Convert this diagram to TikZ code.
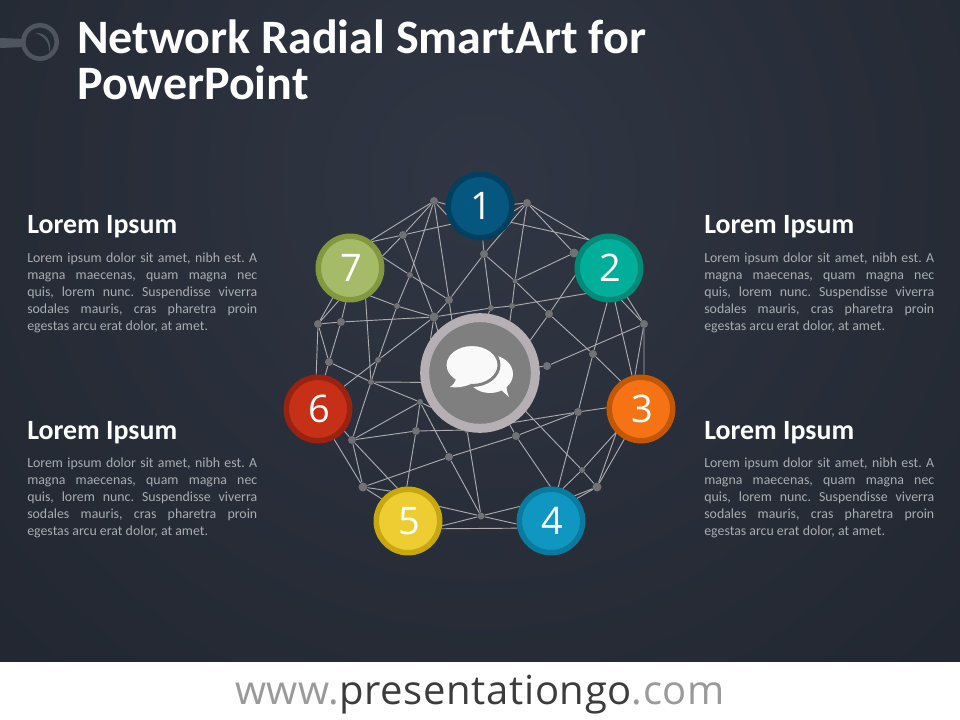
\documentclass[tikz,border=0pt]{standalone}
\usepackage{fontspec}
\setmainfont{Carlito}
\newfontfamily\opensans{Open Sans}
\newfontfamily\footfont[LetterSpace=1.6]{Open Sans}
\frenchspacing
\usetikzlibrary{backgrounds}
\pgfdeclarelayer{bgpaint}
\pgfdeclarelayer{edges}
\pgfsetlayers{bgpaint,edges,main}
\definecolor{linec}{HTML}{ABABB0}
\definecolor{dotc}{HTML}{717176}
\definecolor{bodyc}{HTML}{A9ACB1}
\definecolor{logoc}{HTML}{4F555F}
\definecolor{hubring}{HTML}{B6AFB3}
\definecolor{hubfill}{HTML}{7F7F7F}
\definecolor{oa}{HTML}{034060}\definecolor{ia}{HTML}{065780}
\definecolor{ob}{HTML}{008B79}\definecolor{ib}{HTML}{00AE9A}
\definecolor{oc}{HTML}{C25705}\definecolor{ic}{HTML}{F57315}
\definecolor{od}{HTML}{0A7A9E}\definecolor{id}{HTML}{0F97C2}
\definecolor{oe}{HTML}{C9A70E}\definecolor{ie}{HTML}{EECD33}
\definecolor{of}{HTML}{992212}\definecolor{if}{HTML}{C53016}
\definecolor{og}{HTML}{84993F}\definecolor{ig}{HTML}{A6BB68}
\tikzset{
  netdot/.style={circle,fill=dotc,draw=none,inner sep=0pt,minimum size=#1*0.75pt},
  link/.style={draw=linec,line width=0.7pt},
  badge/.style n args={2}{circle,draw=#1,fill=#2,line width=4.1pt,minimum size=47.6pt,inner sep=0pt,text=white,font=\opensans\fontsize{28.5}{29}\selectfont},
  headtext/.style={anchor=base west,inner sep=0pt,text=white,font=\bfseries\fontsize{20.9}{24}\selectfont},
  titletext/.style={anchor=base west,inner sep=0pt,text=white,font=\bfseries\fontsize{36}{40}\selectfont},
  bodytext/.style={anchor=north west,inner sep=0pt,text=bodyc,text width=172.5pt,align=justify,font=\fontsize{10.4}{12.75}\selectfont},
}
\newcommand{\loremtext}{Lorem ipsum dolor sit amet, nibh est. A\linebreak magna maecenas, quam magna nec\linebreak quis, lorem nunc. Suspendisse viverra\linebreak sodales mauris, cras pharetra proin\linebreak egestas arcu erat dolor, at amet.}
\newcommand{\dgt}[1]{\kern2pt #1}
\begin{document}
\begin{tikzpicture}[x=0.75pt,y=-0.75pt]
\useasboundingbox (0,0) rectangle (960,720);
% background
\begin{pgfonlayer}{bgpaint}
\begin{scope}
\clip (0,0) rectangle (960,662);
\shade[inner color={rgb,255:red,48;green,54;blue,67},outer color={rgb,255:red,31;green,36;blue,45}] (480,180) circle (600pt);
\end{scope}
\fill[white] (0,662) rectangle (960,720);
\end{pgfonlayer}
% logo
\fill[logoc] (0,38) -- (25,39) -- (25,47) -- (0,48) -- cycle;
\draw[logoc,line width=3.4pt] (40,42) circle (16.7);
\fill[logoc] (35,33) .. controls (46,32) and (53,42) .. (49,54) .. controls (50,43) and (45,36) .. (35,33) -- cycle;
% title
\node[titletext] (title1) at (77,53.5) {Network Radial SmartArt for};
\node[titletext] (title2) at (77,99.5) {PowerPoint};
% side texts
\node[headtext] (h1) at (27,234) {Lorem Ipsum};
\node[bodytext] (b1) at (27,253) {\loremtext};
\node[headtext] (h2) at (27,439) {Lorem Ipsum};
\node[bodytext] (b2) at (27,458) {\loremtext};
\node[headtext] (h3) at (704,234) {Lorem Ipsum};
\node[bodytext] (b3) at (704,253) {\loremtext};
\node[headtext] (h4) at (704,439) {Lorem Ipsum};
\node[bodytext] (b4) at (704,458) {\loremtext};
% footer
\node[anchor=base,inner sep=0pt,font=\footfont\fontsize{30}{32}\selectfont] (foot) at (480,704) {\textcolor[HTML]{9A9A9A}{www.}\textcolor[HTML]{3C3C3C}{presentationgo}\textcolor[HTML]{9A9A9A}{.com}};
% network dots
\node[netdot=8] (a) at (434,201) {};
\node[netdot=8] (b) at (403,235) {};
\node[netdot=6] (c) at (410,275) {};
\node[netdot=8] (d) at (449,300) {};
\node[netdot=9] (e) at (434,317) {};
\node[netdot=6] (f) at (397,306) {};
\node[netdot=8] (g) at (341,322) {};
\node[netdot=8] (h) at (318,324) {};
\node[netdot=8] (i) at (329,362) {};
\node[netdot=6] (j) at (378,360) {};
\node[netdot=8] (k) at (527,203) {};
\node[netdot=8] (l) at (484,254) {};
\node[netdot=9] (m) at (574,253) {};
\node[netdot=5] (n) at (515,281) {};
\node[netdot=6] (o) at (491,308) {};
\node[netdot=6] (p) at (512,306) {};
\node[netdot=8] (q) at (549,314) {};
\node[netdot=8] (r) at (644,324) {};
\node[netdot=8] (s) at (593,354) {};
\node[netdot=8] (t) at (547,366) {};
\node[netdot=6] (u) at (371,382) {};
\node[netdot=6] (v) at (420,402) {};
\node[netdot=8] (w) at (416,431) {};
\node[netdot=8] (x) at (352,440) {};
\node[netdot=8] (y) at (449,457) {};
\node[netdot=9] (z) at (363,487) {};
\node[netdot=7] (aa) at (481,516) {};
\node[netdot=8] (bb) at (578,412) {};
\node[netdot=8] (cc) at (516,436) {};
\node[netdot=6] (dd) at (582,470) {};
\node[netdot=9] (ee) at (597,487) {};
\node[netdot=6] (ff) at (467,430) {};
% badges
\node[badge={oa}{ia}] (n1) at (480,206) {\dgt{1}};
\node[badge={ob}{ib}] (n2) at (609,268) {\dgt{2}};
\node[badge={oc}{ic}] (n3) at (641,409) {\dgt{3}};
\node[badge={od}{id}] (n4) at (551,521) {\dgt{4}};
\node[badge={oe}{ie}] (n5) at (408,521) {\dgt{5}};
\node[badge={of}{if}] (n6) at (318,409) {\dgt{6}};
\node[badge={og}{ig}] (n7) at (350,268) {\dgt{7}};
% hub
\node[circle,draw=hubring,fill=hubfill,line width=6.75pt,minimum size=83pt,inner sep=0pt] (hub) at (480,373) {};
\fill[white!95!gray] (490,374) ellipse (23 and 19);
\fill[white!95!gray] (500,389) -- (509,397) .. controls (507,392) and (506,389) .. (507,384) -- cycle;
\draw[hubfill,line width=2.2pt,fill=white!95!gray] (472,365) ellipse (27 and 20.5);
\fill[white!95!gray] (456,377) .. controls (456,382) and (453,385) .. (450,387) .. controls (457,388) and (464,387) .. (471,384) -- cycle;
% connectors
\begin{pgfonlayer}{edges}
\foreach \p/\q in {
 a/n7.53,a/b,a/n1.177,a/n1.195,a/c,a/d,
 b/n7.50,b/n7.20,b/n1.212,b/e,
 n7.18/c,c/d,c/f,f/j,
 n7.-54/f,f/e,d/e,d/l,d/hub.118,
 n7.-63/u,n7.-97/g,n7.-120/h,n7.-109/h,
 h/g,g/e,g/i,h/i,h/n6.93,i/n6.78,
 j/e,j/u,j/n6.41,e/hub.146,e/hub.135,e/o,
 n1/l,l/o,l/k,l/n,n/k,n/q,n/m,n/p,o/hub.82,o/p,p/hub.60,p/n2.-132,
 k/n1.3,k/n1.-8,k/m,k/n2.125,n1.-28/n2.125,m/n2,
 q/n2.-168,q/s,q/hub.33,
 n2.-93/s,n2.-80/n3.105,n2.-69/r,n2.-58/r,
 r/t,t/hub,r/n3.85,r/n3.100,s/n3.126,s/bb,
 bb/n3.178,bb/n4.78,bb/ff,bb/cc,cc/hub.-60,cc/n4.91,cc/y,
 hub.-40/dd,dd/ee,dd/n3.-137,dd/n4.70,ee/n4.47,ee/n4.41,ee/n3.-136,ee/n3.-119,
 ff/aa,ff/w,aa/y,aa/n5.25,aa/n5.-8,aa/n4.155,aa/n4.185,n5.-13/n4.192,
 y/z,y/v,w/v,w/n5.92,w/x,
 x/v,x/u,x/n6.-40,x/z,x/n5.108,n6.-62/z,z/n5.120,z/n5.140,
 i/u,u/v,u/hub.189,v/hub.215}
 {\draw[link] (\p) -- (\q);}
\end{pgfonlayer}
\end{tikzpicture}
\end{document}
